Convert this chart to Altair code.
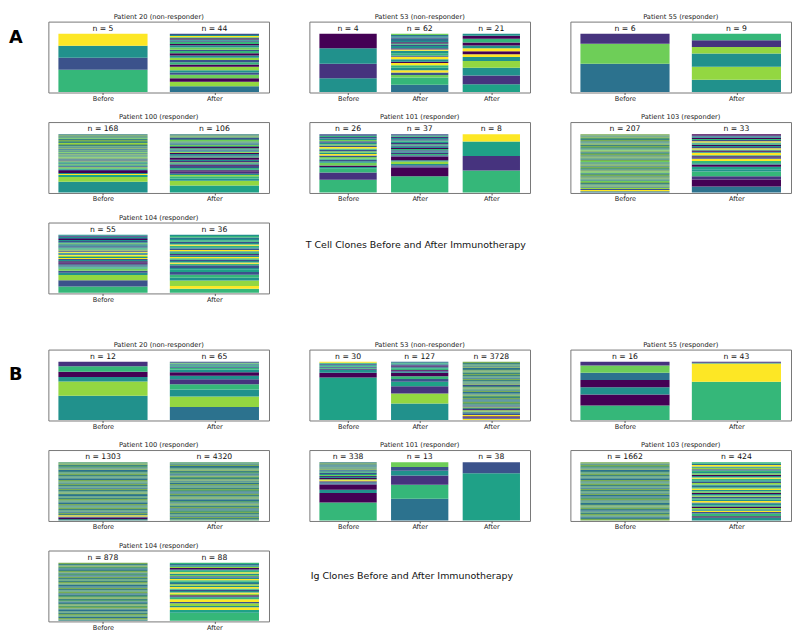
import altair as alt
import pandas as pd

FONT = "DejaVu Sans"

# colour codes (viridis levels, plus the blended tones of very thin stripes)
codes = ["p", "i", "b", "s", "t", "e", "g", "l", "m", "y", "q", "r", "o"]
hexes = ["#440154", "#46337e", "#3b528b", "#2c728e", "#21918c",
         "#1fa187", "#35b779", "#6ece58", "#93d741", "#fde725",
         "#3d8581", "#54a070", "#78ac55"]

titles = ["Patient 20 (non-responder)", "Patient 53 (non-responder)",
          "Patient 55 (responder)", "Patient 100 (responder)",
          "Patient 101 (responder)", "Patient 103 (responder)",
          "Patient 104 (responder)"]

bar_labels = [["Before", "After"], ["Before", "After", "After"],
              ["Before", "After"], ["Before", "After"],
              ["Before", "After", "After"], ["Before", "After"],
              ["Before", "After"]]

A_counts = [[5, 44], [4, 62, 21], [6, 9], [168, 106], [26, 37, 8], [207, 33], [55, 36]]
B_counts = [[12, 65], [30, 127, 3728], [16, 43], [1303, 4320], [338, 13, 38], [1662, 424], [878, 88]]

# clone stripes per bar, bottom -> top: colour code + relative size
A_stripes = [
    ["g24 b13 t13 y13",
     "s5 m4 p3 l3 b2 t2 m3 p2 g2 b2 m2 t2 p2 g2 b1 l2 t2 p1 g2 b1 t1 p1 g1 y1 t1 b1"],
    ["t15 i16 t17 p16",
     "s6 g6 l2 b2 y2 t2 g2 y2 p1 t2 y2 b1 g2 t2 y1 i1 t2 b1 g1 p1 t1 s2 b1 t1 s1 l1",
     "e8 i9 t8 m7 t4 y3 p3 y3 t3 p3 g4 p3 t2"],
    ["s31 l22 i11",
     "t13 m14 t14 m7 i7 g7"],
    ["t11 m5 e2 y1 t1 p2 i1 t1 g1 m1 b1 t1 l1 s1 g1 q1 o1 b1 q1 o1 l1 q1 r1 o1 q1 l1 q1 r1 s1 o1 q1 r1 q1 o1 m1 q1 r1 o1 q1 l1 r1 q1 o1 q1",
     "e6 m4 t2 g2 m1 t1 i2 p1 t1 g1 b2 p1 t1 l1 i1 t1 p2 g1 b1 t1 p1 m1 t1 b1 g1 p1 q1 l1 s1 q1 r1 l1 q1 b1 r1 o1 q1"],
    ["g9 i5 g3 t1 p1 l2 t1 b1 g1 l1 b1 y1 t1 l1 b1 g1 y1 b1 l1 t1 b1 l1 t1 b1 g1 b1",
     "g13 p7 i1 b1 t1 m2 t1 p3 b1 g1 i1 t1 b1 g1 p1 t1 b1 g1 i1 t1 g1 b1 t1 i1 g1 b1",
     "g24 i16 e16 y8"],
    ["s1 y1 b1 m1 q1 o1 r1 q1 o1 l1 q1 r1 o1 q1 o1 r1 q1 l1 o1 q1 r1 o1 q1 o1 r1 q1 l1 o1 q1 r1 o1 q1 o1 r1 q1 o1 l1 q1 r1 o1 q1 o1 r1 q1 o1 q1 r1 o1 q1 o1",
     "s5 p6 i3 g4 t2 e2 p2 t1 g2 y2 b1 p1 t1 y2 t1 p1 g1 y1 b1 t1 p1 g1 t1 y1 b1 g1 p1 t1 b1 p1"],
    ["g6 b6 m5 t2 b2 l2 t1 g1 b1 s1 p1 i1 p1 t1 b1 y1 t1 m1 y1 s1 t1 y1 b1 m1 t1 g1 b1 t1 s1 l1 t1 b1 t1 p1 b1 t1 i1 t1",
     "g3 y2 m4 t2 g2 b2 e2 t1 b2 g1 y1 t1 b1 g1 y1 t1 i1 g1 t1 y1 b1 t1 g1 y1 t1 b1 g1 t1 s1 g1 t1"],
]

B_stripes = [
    ["t27 m16 t5 p6 g6 i5",
     "s15 m12 t8 g6 i6 t4 p4 t3 g2 b1 t1 g1 b1 t1 l1 b1"],
    ["e43 p5 t3 i1 g1 b1 g1 t1 b1 g1 y1",
     "t18 m11 i8 e5 b3 g3 p4 t1 b1 p1 g2 t1 i1 p1 b1 t1 g1 s1",
     "y1 b1 p1 y1 b1 s1 q1 m1 i1 q1 o1 b1 q1 r1 o1 q1 s1 o1 q1 r1 o1 q1 s1 o1 q1 r1 o1 q1 b1 o1 q1 r1 q1 o1 s1 r1 q1 o1 q1 r1 o1 q1 s1 o1 q1 r1 q1 o1"],
    ["g16 p12 t8 p8 s8 l8 i4",
     "g42 y20 t1 i1"],
    ["q1 p1 b1 y1 q1 o1 s1 r1 q1 o1 r1 q1 o1 s1 q1 r1 o1 q1 r1 s1 q1 o1 r1 q1 o1 s1 r1 q1 o1 q1 r1 o1 s1 q1 r1 q1 o1 r1 q1 s1 o1 q1 r1 q1 o1 r1",
     "r1 q1 o1 s1 r1 q1 o1 r1 q1 s1 o1 q1 r1 o1 q1 r1 s1 q1 o1 r1 q1 o1 q1 s1 r1 o1 q1 r1 q1 o1 s1 r1 q1 o1 q1 r1 o1 s1 q1 r1 q1 o1 r1 q1 s1 o1 q1 r1"],
    ["g17 p9 t3 p5 b1 s1 i1 y1 m1 p1 t1 i1 l1 t1 b1 g1 q1 s1 o1 q1 r1 s1 q1 o1 q1",
     "s23 g15 i10 t5 b4 l5",
     "e51 b12"],
    ["o1 q1 s1 r1 o1 q1 r1 s1 q1 o1 r1 o1 q1 s1 r1 q1 o1 r1 q1 s1 o1 q1 r1 q1 o1 s1 r1 q1 o1 r1 q1 o1 s1 q1 r1 q1 o1 r1 q1 s1 o1 q1 r1 o1 q1 o1",
     "t2 p1 g2 b1 y1 t1 m1 p1 g1 t1 s1 y1 t1 g1 b1 m1 t1 p1 l1 t1 y1 g1 s1 t1 m1 b1 t1 g1 y1 t1 p1 l1 t1 g1 b1 m1 t1 y1 s1 g1"],
    ["q1 o1 s1 r1 o1 q1 r1 s1 q1 o1 r1 o1 q1 s1 r1 q1 o1 r1 q1 s1 o1 r1 q1 o1 q1 s1 r1 o1 q1 r1 q1 o1 s1 r1 q1 o1 q1 s1 r1 o1 q1 o1",
     "g6 e2 y2 t1 m2 b1 y2 g1 t1 p1 m1 y1 t1 b1 g1 y1 t1 m1 s1 t1 g1 y1 t1 b1 l1 t1 y1 g1 t1 p1 m1 t1 s1 g1"],
]

section_letters = ["A", "B"]
captions = ["T Cell Clones Before and After Immunotherapy",
            "Ig Clones Before and After Immunotherapy"]

PW, PH = 224, 72


def make_panel(title, labels, counts, stripes, letter=None, letter_y=16,
               letter_visible=False, caption=None, caption_x=370, caption_y=24):
    nb = len(labels)
    seg = []
    for j, s in enumerate(stripes):
        for k, tok in enumerate(s.split()):
            seg.append({"pos": j, "k": k, "c": tok[0], "w": int(tok[1:])})
    seg_df = pd.DataFrame(seg)
    n_df = pd.DataFrame({"pos": list(range(nb)),
                         "txt": [f"n = {c}" for c in counts],
                         "top": [1.0] * nb})
    margin = 0.05 * (nb - 0.2)
    xs = alt.Scale(domain=[-0.4 - margin, nb - 0.6 + margin], nice=False, zero=False)
    ys = alt.Scale(domain=[-0.01, 1.21], nice=False, zero=False)
    arr = "[" + ",".join(f"'{l}'" for l in labels) + "]"
    xaxis = alt.Axis(values=list(range(nb)), labelExpr=f"{arr}[datum.value]",
                     title=None, grid=False, domain=False, ticks=True,
                     tickSize=2, tickColor="#555", labelFont=FONT,
                     labelFontSize=6.6, labelColor="#222", labelPadding=1,
                     labelFlush=False)
    bars = (alt.Chart(seg_df)
            .transform_joinaggregate(tot="sum(w)", groupby=["pos"])
            .transform_calculate(frac="datum.w / datum.tot",
                                 x0="datum.pos - 0.4", x1="datum.pos + 0.4")
            .transform_stack(stack="frac", groupby=["pos"], as_=["y0", "y1"],
                             sort=[alt.SortField(field="k", order="ascending")])
            .mark_bar()
            .encode(x=alt.X("x0:Q", scale=xs, axis=xaxis),
                    x2="x1:Q",
                    y=alt.Y("y0:Q", scale=ys, axis=None),
                    y2="y1:Q",
                    color=alt.Color("c:N", scale=alt.Scale(domain=codes, range=hexes),
                                    legend=None)))
    ntext = (alt.Chart(n_df)
             .mark_text(baseline="alphabetic", dy=-3, font=FONT, fontSize=7.8, color="#111")
             .encode(x=alt.X("pos:Q", scale=xs, axis=xaxis),
                     y=alt.Y("top:Q", scale=ys, axis=None),
                     text="txt:N"))
    layers = [bars, ntext]
    if letter is not None:
        layers.append(
            alt.Chart(pd.DataFrame({"t": [letter]}))
            .mark_text(font=FONT, fontSize=18, fontWeight="bold", align="left",
                       baseline="middle", color="#000",
                       opacity=1 if letter_visible else 0)
            .encode(x=alt.value(-40), y=alt.value(letter_y), text="t:N"))
    if caption is not None:
        layers.append(
            alt.Chart(pd.DataFrame({"t": [caption]}))
            .mark_text(font=FONT, fontSize=9.6, align="center", baseline="middle",
                       color="#111")
            .encode(x=alt.value(caption_x), y=alt.value(caption_y), text="t:N"))
    return alt.layer(*layers).properties(width=PW, height=PH, title=title)


def make_section(counts, stripes, letter, caption, letter_y, caption_x, caption_y):
    panels = [make_panel(titles[i], bar_labels[i], counts[i], stripes[i],
                         letter=(letter if i % 3 == 0 else None),
                         letter_y=letter_y, letter_visible=(i == 0),
                         caption=(caption if i == 6 else None),
                         caption_x=caption_x, caption_y=caption_y)
              for i in range(7)]
    rows = [alt.hconcat(*panels[0:3], spacing=39),
            alt.hconcat(*panels[3:6], spacing=39),
            alt.hconcat(panels[6], spacing=39)]
    return alt.vconcat(*rows, spacing=10)


secA = make_section(A_counts, A_stripes, section_letters[0], captions[0], 17, 373, 23)
secB = make_section(B_counts, B_stripes, section_letters[1], captions[1], 26, 369, 26)

chart = (alt.vconcat(secA, secB, spacing=37)
         .properties(padding=0)
         .configure_view(stroke="#777", strokeWidth=1)
         .configure_title(font=FONT, fontSize=6.8, color="#222", offset=1,
                          fontWeight="normal", anchor="middle"))

chart.save("out.html", embed_options={"renderer": "svg", "actions": False})
